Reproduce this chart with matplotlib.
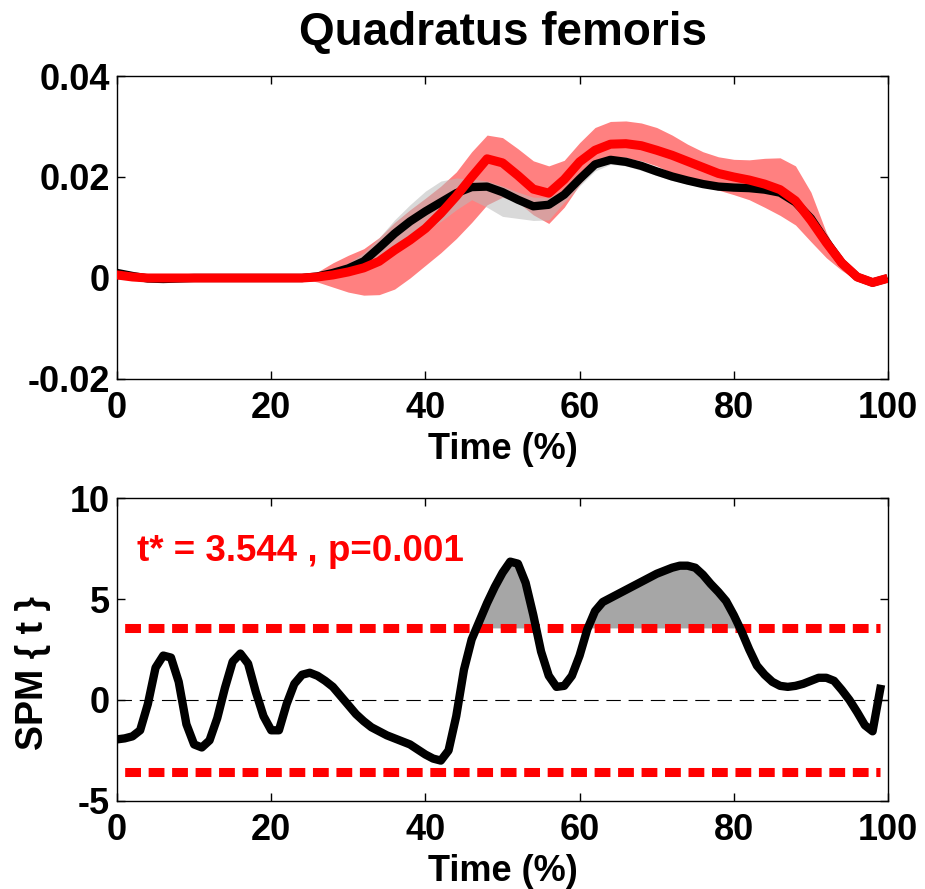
"""
SPM comparison chart: Quadratus femoris mean +/- SD and SPM{t} trajectory
"""

import matplotlib
matplotlib.use('Agg')
import matplotlib.pyplot as plt
import numpy as np

plt.rcParams['font.family'] = ['Liberation Sans', 'DejaVu Sans']

# ---- data ----
time_top = [0, 2, 4, 6, 8, 10, 12, 14, 16, 18, 20, 22, 24, 26, 28, 30, 32, 34, 36, 38,
            40, 42, 44, 46, 48, 50, 52, 54, 56, 58, 60, 62, 64, 66, 68, 70, 72, 74, 76, 78,
            80, 82, 84, 86, 88, 90, 92, 94, 96, 98, 99.4]

black_mean = [0.0010, 0.0004, -0.0001, -0.0002, -0.0001, 0.0, 0.0, 0.0, 0.0, 0.0, 0.0, 0.0,
              0.0, 0.0003, 0.0010, 0.0019, 0.0033, 0.0060, 0.0088, 0.0112, 0.0132, 0.0150,
              0.0168, 0.0180, 0.0181, 0.0170, 0.0155, 0.0142, 0.0145, 0.0165, 0.0196, 0.0225,
              0.0234, 0.0230, 0.0222, 0.0211, 0.0201, 0.0193, 0.0186, 0.0181, 0.0179, 0.0178,
              0.0175, 0.0169, 0.0150, 0.0118, 0.0072, 0.0030, 0.0002, -0.0009, -0.0003]
black_upper = [0.0012, 0.0006, 0.0001, 0.0, 0.0001, 0.0002, 0.0002, 0.0002, 0.0002, 0.0002,
               0.0002, 0.0002, 0.0002, 0.0006, 0.0016, 0.0030, 0.0050, 0.0080, 0.0115, 0.0145,
               0.0172, 0.0192, 0.0198, 0.0196, 0.0192, 0.0182, 0.0170, 0.0160, 0.0160, 0.0172,
               0.0200, 0.0228, 0.0240, 0.0240, 0.0230, 0.0219, 0.0209, 0.0200, 0.0193, 0.0187,
               0.0184, 0.0183, 0.0180, 0.0173, 0.0155, 0.0123, 0.0077, 0.0034, 0.0005, -0.0007,
               -0.0001]
black_lower = [0.0008, 0.0002, -0.0003, -0.0004, -0.0003, -0.0002, -0.0002, -0.0002, -0.0002,
               -0.0002, -0.0002, -0.0002, -0.0002, 0.0, 0.0004, 0.0008, 0.0016, 0.0030, 0.0050,
               0.0072, 0.0095, 0.0112, 0.0135, 0.0155, 0.0140, 0.0122, 0.0118, 0.0114, 0.0115,
               0.0150, 0.0182, 0.0212, 0.0225, 0.0222, 0.0213, 0.0203, 0.0193, 0.0186, 0.0180,
               0.0176, 0.0174, 0.0173, 0.0170, 0.0162, 0.0145, 0.0112, 0.0067, 0.0026, -0.0001,
               -0.0011, -0.0005]

red_mean = [0.0006, 0.0002, 0.0, 0.0, 0.0, 0.0, 0.0, 0.0, 0.0, 0.0, 0.0, 0.0, 0.0, 0.0002,
            0.0006, 0.0012, 0.0020, 0.0033, 0.0055, 0.0075, 0.0098, 0.0128, 0.0162, 0.0200,
            0.0236, 0.0228, 0.0203, 0.0176, 0.0168, 0.0195, 0.0230, 0.0253, 0.0265, 0.0266,
            0.0262, 0.0253, 0.0243, 0.0231, 0.0219, 0.0207, 0.0200, 0.0194, 0.0186, 0.0175,
            0.0153, 0.0114, 0.0070, 0.0030, 0.0002, -0.0009, -0.0003]
red_upper = [0.0008, 0.0004, 0.0002, 0.0002, 0.0002, 0.0002, 0.0002, 0.0002, 0.0002, 0.0002,
             0.0002, 0.0002, 0.0003, 0.0012, 0.0030, 0.0045, 0.0058, 0.0080, 0.0110, 0.0135,
             0.0158, 0.0182, 0.0210, 0.0250, 0.0283, 0.0278, 0.0256, 0.0232, 0.0222, 0.0233,
             0.0268, 0.0298, 0.0310, 0.0311, 0.0307, 0.0298, 0.0283, 0.0265, 0.0250, 0.0240,
             0.0235, 0.0234, 0.0237, 0.0238, 0.0222, 0.0170, 0.0090, 0.0035, 0.0008, -0.0005,
             0.0]
red_lower = [0.0004, 0.0, -0.0002, -0.0002, -0.0002, -0.0002, -0.0002, -0.0002, -0.0002,
             -0.0002, -0.0002, -0.0002, -0.0002, -0.0008, -0.0018, -0.0028, -0.0034, -0.0033,
             -0.0022, 0.0, 0.0025, 0.0050, 0.0078, 0.0110, 0.0145, 0.0160, 0.0150, 0.0125,
             0.0108, 0.0140, 0.0185, 0.0220, 0.0236, 0.0238, 0.0232, 0.0222, 0.0208, 0.0192,
             0.0182, 0.0174, 0.0165, 0.0155, 0.0140, 0.0124, 0.0105, 0.0072, 0.0040, 0.0015,
             -0.0005, -0.0012, -0.0006]

time_spm = np.arange(0, 100)
spm_t = [-1.95, -1.90, -1.80, -1.50, -0.20, 1.60, 2.20, 2.10, 0.90, -1.20,
         -2.20, -2.35, -2.00, -0.90, 0.60, 1.90, 2.30, 1.80, 0.40, -0.80,
         -1.50, -1.50, -0.20, 0.80, 1.25, 1.35, 1.20, 0.95, 0.65, 0.20,
         -0.25, -0.70, -1.05, -1.35, -1.55, -1.75, -1.90, -2.05, -2.20, -2.45,
         -2.70, -2.90, -3.00, -2.50, -0.80, 1.50, 3.00, 3.90, 4.80, 5.60,
         6.30, 6.85, 6.75, 5.80, 4.20, 2.40, 1.20, 0.65, 0.70, 1.20,
         2.20, 3.50, 4.40, 4.85, 5.05, 5.25, 5.45, 5.65, 5.85, 6.05,
         6.25, 6.40, 6.55, 6.65, 6.65, 6.55, 6.20, 5.75, 5.35, 4.90,
         4.20, 3.40, 2.50, 1.70, 1.25, 0.90, 0.70, 0.65, 0.70, 0.80,
         0.95, 1.10, 1.10, 0.95, 0.50, 0.00, -0.60, -1.25, -1.55, 0.55]
t_star = 3.544
p_value = 0.001

xticks = [0, 20, 40, 60, 80, 100]
top_yticks = [-0.02, 0, 0.02, 0.04]
top_yticklabels = ['-0.02', '0', '0.02', '0.04']
spm_yticks = [-5, 0, 5, 10]
spm_yticklabels = ['-5', '0', '5', '10']

# ---- figure ----
fig = plt.figure(figsize=(9.25, 8.89), dpi=100)
ax1 = fig.add_axes([0.1265, 0.5737, 0.8335, 0.3408])
ax2 = fig.add_axes([0.1265, 0.0990, 0.8335, 0.3408])

# Top panel: mean +/- SD clouds
ax1.fill_between(time_top, red_lower, red_upper, color='#FF8080', linewidth=0, zorder=1)
ax1.fill_between(time_top, black_lower, black_upper, color='#BABABA', alpha=0.55,
                 linewidth=0, zorder=2)
ax1.plot(time_top, black_mean, color='black', linewidth=6, zorder=3)
ax1.plot(time_top, red_mean, color='#FF0000', linewidth=6.5, zorder=4)

ax1.set_xlim(0, 100)
ax1.set_ylim(-0.02, 0.04)
ax1.set_yticks(top_yticks)
ax1.set_yticklabels(top_yticklabels)
ax1.set_title('Quadratus femoris', fontsize=33, fontweight='bold', pad=22)

# Bottom panel: SPM{t}
ax2.fill_between(time_spm, t_star, spm_t, where=np.array(spm_t) > t_star,
                 interpolate=True, color='#A6A6A6', linewidth=0, zorder=1)
ax2.axhline(0, color='black', linewidth=0.8, linestyle=(0, (13, 7)), zorder=2)
ax2.plot([time_spm[0], time_spm[-1]], [t_star, t_star], color='#FF0000', linewidth=6.5,
         linestyle=(1.75, (1.75, 0.85)), solid_capstyle='butt', zorder=3)
ax2.plot([time_spm[0], time_spm[-1]], [-t_star, -t_star], color='#FF0000', linewidth=6.5,
         linestyle=(1.75, (1.75, 0.85)), solid_capstyle='butt', zorder=3)
ax2.plot(time_spm, spm_t, color='black', linewidth=6, zorder=4)
ax2.text(2.6, 6.87, f't* = {t_star:.3f} , p={p_value:.3f}', color='#FF0000',
         fontsize=26.5, fontweight='bold', va='baseline', ha='left')

ax2.set_xlim(0, 100)
ax2.set_ylim(-5, 10)
ax2.set_yticks(spm_yticks)
ax2.set_yticklabels(spm_yticklabels)
ax2.set_ylabel('SPM { t }', fontsize=27, fontweight='bold')
ax2.yaxis.set_label_coords(-0.085, 0.4224)

# Shared styling
for ax in (ax1, ax2):
    ax.set_xticks(xticks)
    ax.set_xlabel('Time (%)', fontsize=26, fontweight='bold', labelpad=4)
    ax.tick_params(direction='in', length=6, width=1, top=True, right=True,
                   labelsize=26)
    ax.tick_params(axis='x', pad=9)
    ax.tick_params(axis='y', pad=5)
    for lab in ax.get_xticklabels() + ax.get_yticklabels():
        lab.set_fontweight('bold')
    for spine in ax.spines.values():
        spine.set_linewidth(1)

fig.savefig('out.png', dpi=100, facecolor='white')
plt.close(fig)
